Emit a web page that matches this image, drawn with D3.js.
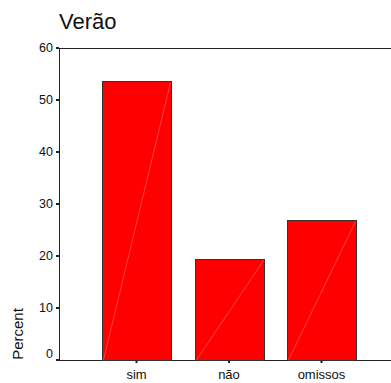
<!DOCTYPE html>
<html><head><meta charset="utf-8">
<script src="https://cdn.jsdelivr.net/npm/d3@7"></script>
<style>body{margin:0;background:#fff}svg{display:block}text{font-family:"Liberation Sans",Arial,sans-serif;fill:#111}</style>
</head><body>
<script>
const categories = ["sim", "não", "omissos"];
const percents = [53.6, 19.5, 26.9];
const yTicks = [0, 10, 20, 30, 40, 50, 60];
const title = "Verão";
const yLabel = "Percent";

(function () {
const W = 391, H = 383;
const svg = d3.select("body").append("svg").attr("width", W).attr("height", H);
const mLeft = 59, mTop = 48, mBottom = 360, mRight = 399;

const x = d3.scaleBand().domain(categories).range([mLeft, mRight]).paddingInner(0.254).paddingOuter(0.465);
const y = d3.scaleLinear().domain([0, 60]).range([mBottom, mTop]);

// frame
svg.append("line").attr("x1", mLeft).attr("x2", W).attr("y1", mTop + 0.5).attr("y2", mTop + 0.5).attr("stroke", "#222");
svg.append("line").attr("x1", mLeft).attr("x2", W).attr("y1", mBottom + 0.5).attr("y2", mBottom + 0.5).attr("stroke", "#222");
svg.append("line").attr("x1", mLeft + 0.5).attr("x2", mLeft + 0.5).attr("y1", mTop).attr("y2", mBottom + 1).attr("stroke", "#222");

// bars
const g = svg.append("g");
categories.forEach((c, i) => {
  const x0 = Math.round(x(c)) + 0.5, w = Math.round(x.bandwidth());
  const yt = Math.round(y(percents[i])) + 0.5;
  g.append("rect").attr("x", x0).attr("y", yt).attr("width", w).attr("height", mBottom + 0.5 - yt)
    .attr("fill", "#ff0000").attr("stroke", "#333").attr("stroke-width", 1);
  g.append("line").attr("x1", x0 + 1).attr("y1", mBottom).attr("x2", x0 + w - 1).attr("y2", yt + 1)
    .attr("stroke", "#ffa0a0").attr("stroke-width", 0.5).attr("opacity", 0.8);
});

// y axis ticks
yTicks.forEach(t => {
  svg.append("rect").attr("x", mLeft - 3).attr("y", y(t) - 1).attr("width", 3).attr("height", 2).attr("fill", "#222");
  svg.append("text").attr("x", mLeft - 6).attr("y", Math.min(y(t), mBottom - 6)).attr("dy", "0.35em").attr("text-anchor", "end")
    .attr("font-size", 12.5).text(t);
});

// x axis ticks
categories.forEach(c => {
  const cx = x(c) + x.bandwidth() / 2;
  svg.append("rect").attr("x", cx - 1).attr("y", mBottom + 1).attr("width", 2).attr("height", 2).attr("fill", "#222");
  svg.append("text").attr("x", cx).attr("y", mBottom + 14).attr("dy", "0.35em").attr("text-anchor", "middle")
    .attr("font-size", 13).text(c);
});

svg.append("text").attr("x", 59).attr("y", 29).attr("font-size", 22).text(title);
svg.append("text").attr("transform", "translate(22.5,334) rotate(-90)").attr("text-anchor", "middle")
  .attr("font-size", 15).text(yLabel);
})();
</script>
</body></html>
